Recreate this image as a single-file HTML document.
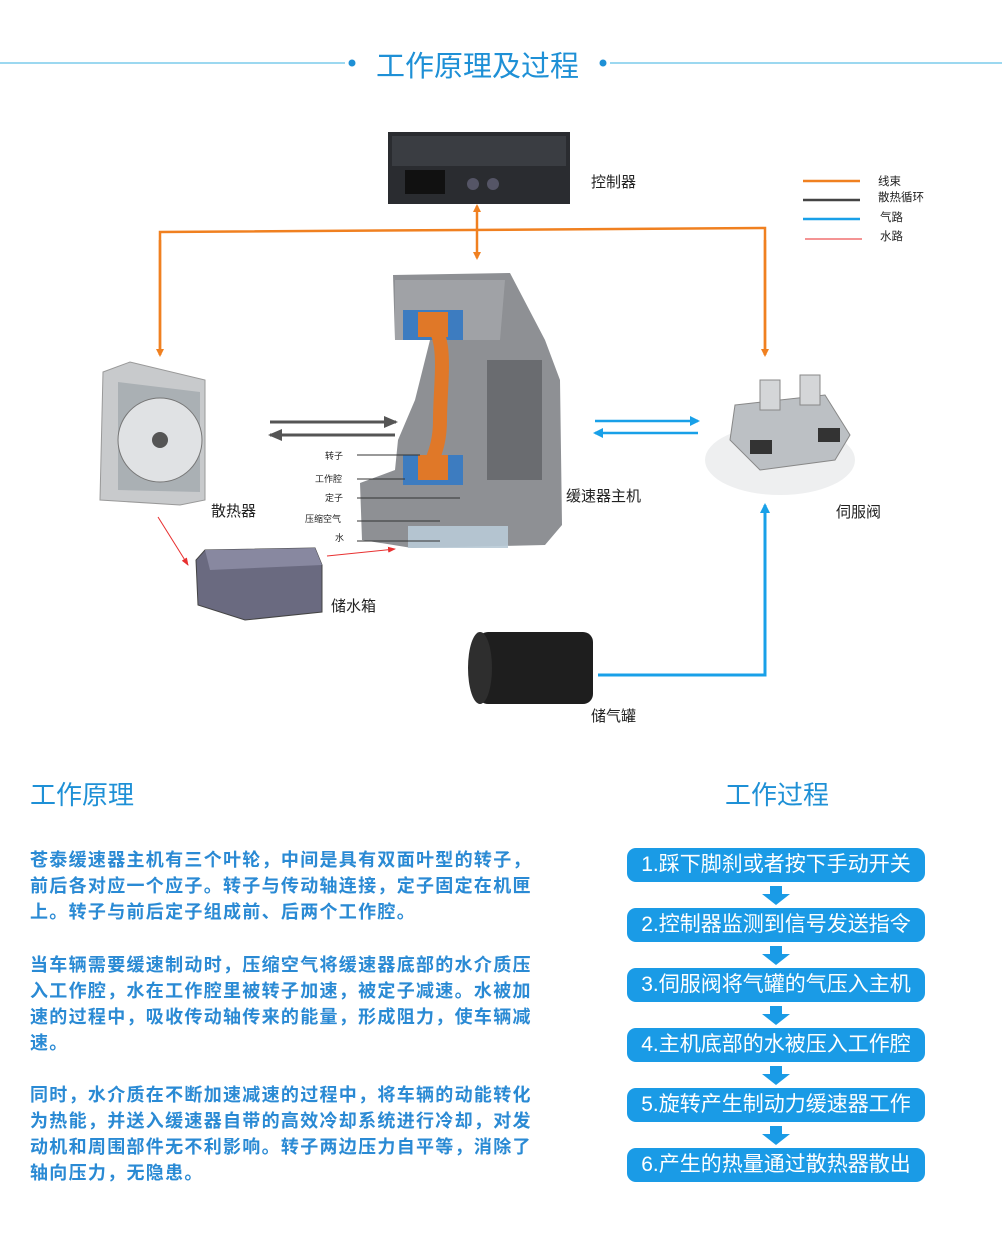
<!DOCTYPE html><html><head><meta charset="utf-8"><style>
body{margin:0;width:1002px;height:1238px;background:#fff;position:relative;overflow:hidden;font-family:"Liberation Sans","Noto Sans CJK SC",sans-serif}
.t{position:absolute;white-space:nowrap}
.p{position:absolute;left:30px;width:560px;color:#2a8ad4;font-weight:bold;font-size:18px;letter-spacing:1.3px;line-height:26px;white-space:nowrap}
.b{position:absolute;left:627px;width:298px;height:34px;border-radius:9px;background:#1a9be6;color:#fff;font-size:21px;line-height:34px;text-align:center}
</style></head><body>
<svg width="1002" height="760" style="position:absolute;left:0;top:0">
<defs>
<marker id="o" markerWidth="8" markerHeight="8" refX="6" refY="4" orient="auto" markerUnits="userSpaceOnUse"><path d="M0,0L8,4L0,8z" fill="#f08020"/></marker>
<marker id="bl" markerWidth="10" markerHeight="10" refX="8" refY="5" orient="auto" markerUnits="userSpaceOnUse"><path d="M0,0L10,5L0,10z" fill="#18a0e8"/></marker>
<marker id="g" markerWidth="14" markerHeight="12" refX="12" refY="6" orient="auto" markerUnits="userSpaceOnUse"><path d="M0,0L14,6L0,12z" fill="#555"/></marker>
<marker id="r" markerWidth="8" markerHeight="6" refX="7" refY="3" orient="auto" markerUnits="userSpaceOnUse"><path d="M0,0L8,3L0,6z" fill="#e83030"/></marker>
</defs>
<line x1="0" y1="63" x2="345" y2="63" stroke="#3ab0e0" stroke-width="1"/>
<line x1="610" y1="63" x2="1002" y2="63" stroke="#3ab0e0" stroke-width="1"/>
<circle cx="352" cy="63" r="3.5" fill="#1e90d6"/><circle cx="603" cy="63" r="3.5" fill="#1e90d6"/>
<rect x="388" y="132" width="182" height="72" fill="#2a2c30"/>
<rect x="392" y="136" width="174" height="30" fill="#3a3d42"/>
<rect x="405" y="170" width="40" height="24" fill="#111"/>
<circle cx="473" cy="184" r="6" fill="#556"/><circle cx="493" cy="184" r="6" fill="#556"/>
<polyline points="160,355 160,232 765,228 765,355" fill="none" stroke="#f08020" stroke-width="2.5"/>
<line x1="160" y1="240" x2="160" y2="355" stroke="#f08020" stroke-width="2.5" marker-end="url(#o)"/>
<line x1="765" y1="240" x2="765" y2="355" stroke="#f08020" stroke-width="2.5" marker-end="url(#o)"/>
<line x1="477" y1="232" x2="477" y2="206" stroke="#f08020" stroke-width="2.5" marker-end="url(#o)"/>
<line x1="477" y1="232" x2="477" y2="258" stroke="#f08020" stroke-width="2.5" marker-end="url(#o)"/>
<line x1="803" y1="181" x2="860" y2="181" stroke="#f08020" stroke-width="2.5"/>
<line x1="803" y1="200" x2="860" y2="200" stroke="#444" stroke-width="2.5"/>
<line x1="803" y1="219" x2="860" y2="219" stroke="#18a0e8" stroke-width="2.5"/>
<line x1="805" y1="239" x2="862" y2="239" stroke="#f07070" stroke-width="1.5"/>
<polygon points="103,372 130,362 205,380 205,500 180,505 100,500" fill="#c8cacc" stroke="#999"/>
<polygon points="118,382 200,392 200,492 118,490" fill="#aab0b4"/>
<circle cx="160" cy="440" r="42" fill="#e0e2e4" stroke="#777"/>
<circle cx="160" cy="440" r="8" fill="#555"/>
<line x1="270" y1="422" x2="396" y2="422" stroke="#555" stroke-width="3" marker-end="url(#g)"/>
<line x1="395" y1="435" x2="270" y2="435" stroke="#555" stroke-width="3" marker-end="url(#g)"/>
<polygon points="393,275 510,273 545,340 560,380 562,525 545,545 412,548 362,540 360,483 395,470 398,440 415,400 430,340 395,340" fill="#8e9094"/>
<polygon points="395,280 505,280 500,340 395,340" fill="#a0a2a6"/>
<rect x="403" y="310" width="60" height="30" fill="#3d7cc0"/>
<rect x="403" y="455" width="60" height="30" fill="#3d7cc0"/>
<path d="M425,320 C450,330 440,380 440,420 C440,450 430,460 430,470" stroke="#e07828" stroke-width="14" fill="none"/>
<rect x="418" y="312" width="30" height="25" fill="#e07828"/><rect x="418" y="455" width="30" height="25" fill="#e07828"/>
<rect x="487" y="360" width="55" height="120" fill="#6a6c70"/>
<rect x="408" y="526" width="100" height="22" fill="#b8cad6" opacity=".9"/>
<g stroke="#333" stroke-width="1"><line x1="357" y1="455" x2="420" y2="455"/><line x1="357" y1="479" x2="405" y2="479"/><line x1="357" y1="498" x2="460" y2="498"/><line x1="357" y1="521" x2="440" y2="521"/><line x1="357" y1="541" x2="440" y2="541"/></g>
<line x1="595" y1="421" x2="698" y2="421" stroke="#18a0e8" stroke-width="2.5" marker-end="url(#bl)"/>
<line x1="698" y1="433" x2="595" y2="433" stroke="#18a0e8" stroke-width="2.5" marker-end="url(#bl)"/>
<ellipse cx="780" cy="460" rx="75" ry="35" fill="#eeeff0"/>
<polygon points="735,405 825,395 850,435 835,460 760,470 730,440" fill="#bcc0c4" stroke="#888"/>
<rect x="760" y="380" width="20" height="30" fill="#d4d6d8" stroke="#888"/>
<rect x="800" y="375" width="20" height="30" fill="#d4d6d8" stroke="#888"/>
<rect x="818" y="428" width="22" height="14" fill="#333"/><rect x="750" y="440" width="22" height="14" fill="#333"/>
<polygon points="205,550 315,548 322,565 322,612 245,620 198,605 196,560" fill="#6a6a80" stroke="#444"/>
<polygon points="205,550 315,548 322,565 210,570" fill="#8888a0"/>
<line x1="158" y1="517" x2="188" y2="565" stroke="#e83030" stroke-width="1" marker-end="url(#r)"/>
<line x1="327" y1="556" x2="395" y2="549" stroke="#e83030" stroke-width="1" marker-end="url(#r)"/>
<rect x="478" y="632" width="115" height="72" rx="10" fill="#1e1e1e"/>
<ellipse cx="480" cy="668" rx="12" ry="36" fill="#2e2e2e"/>
<polyline points="598,675 765,675 765,505" fill="none" stroke="#18a0e8" stroke-width="3" marker-end="url(#bl)"/>
</svg>
<div class="t" style="left:376px;top:43px;font-size:29px;color:#1e90d6">工作原理及过程</div>
<div class="t" style="left:591px;top:171px;font-size:15px;color:#222">控制器</div>
<div class="t" style="left:878px;top:173px;font-size:11.5px;color:#222">线束</div>
<div class="t" style="left:878px;top:189px;font-size:11.5px;color:#222">散热循环</div>
<div class="t" style="left:880px;top:209px;font-size:11.5px;color:#222">气路</div>
<div class="t" style="left:880px;top:228px;font-size:11.5px;color:#222">水路</div>
<div class="t" style="left:211px;top:500px;font-size:15px;color:#222">散热器</div>
<div class="t" style="left:566px;top:485px;font-size:15px;color:#222">缓速器主机</div>
<div class="t" style="left:836px;top:501px;font-size:15px;color:#222">伺服阀</div>
<div class="t" style="left:331px;top:595px;font-size:15px;color:#222">储水箱</div>
<div class="t" style="left:591px;top:705px;font-size:15px;color:#222">储气罐</div>
<div class="t" style="left:325px;top:449px;font-size:9px;color:#222">转子</div>
<div class="t" style="left:315px;top:472px;font-size:9px;color:#222">工作腔</div>
<div class="t" style="left:325px;top:491px;font-size:9px;color:#222">定子</div>
<div class="t" style="left:305px;top:512px;font-size:9px;color:#222">压缩空气</div>
<div class="t" style="left:335px;top:531px;font-size:9px;color:#222">水</div>
<div class="t" style="left:30px;top:775px;font-size:26px;color:#1e90d6">工作原理</div>
<div class="t" style="left:725px;top:775px;font-size:26px;color:#1e90d6">工作过程</div>
<div class="p" style="top:847px">苍泰缓速器主机有三个叶轮，中间是具有双面叶型的转子，<br>前后各对应一个应子。转子与传动轴连接，定子固定在机匣<br>上。转子与前后定子组成前、后两个工作腔。</div>
<div class="p" style="top:952px">当车辆需要缓速制动时，压缩空气将缓速器底部的水介质压<br>入工作腔，水在工作腔里被转子加速，被定子减速。水被加<br>速的过程中，吸收传动轴传来的能量，形成阻力，使车辆减<br>速。</div>
<div class="p" style="top:1082px">同时，水介质在不断加速减速的过程中，将车辆的动能转化<br>为热能，并送入缓速器自带的高效冷却系统进行冷却，对发<br>动机和周围部件无不利影响。转子两边压力自平等，消除了<br>轴向压力，无隐患。</div>
<div class="b" style="top:848px">1.踩下脚刹或者按下手动开关</div>
<div class="b" style="top:908px">2.控制器监测到信号发送指令</div>
<div class="b" style="top:968px">3.伺服阀将气罐的气压入主机</div>
<div class="b" style="top:1028px">4.主机底部的水被压入工作腔</div>
<div class="b" style="top:1088px">5.旋转产生制动力缓速器工作</div>
<div class="b" style="top:1148px">6.产生的热量通过散热器散出</div>
<svg width="1002" height="1238" style="position:absolute;left:0;top:0;pointer-events:none">
<g fill="#1a9be6">
<path d="M770,886h12v8h8l-14,11l-14,-11h8z"/>
<path d="M770,946h12v8h8l-14,11l-14,-11h8z"/>
<path d="M770,1006h12v8h8l-14,11l-14,-11h8z"/>
<path d="M770,1066h12v8h8l-14,11l-14,-11h8z"/>
<path d="M770,1126h12v8h8l-14,11l-14,-11h8z"/>
</g></svg>
</body></html>
